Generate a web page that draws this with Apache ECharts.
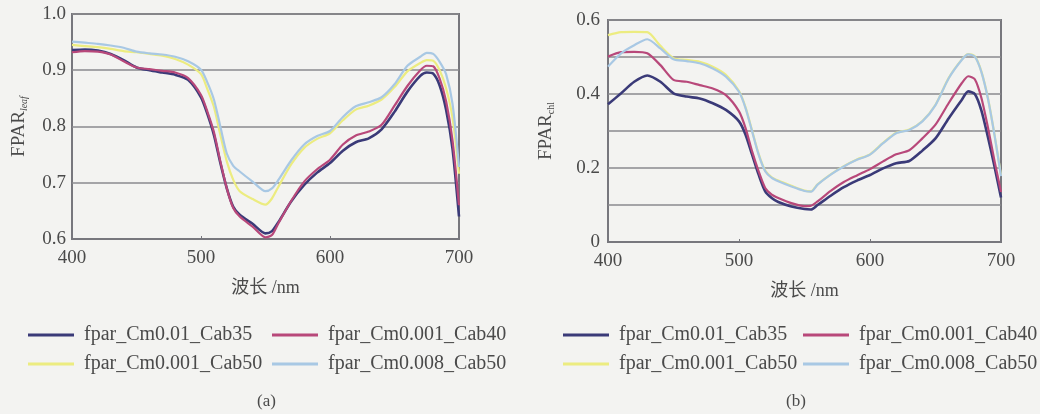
<!DOCTYPE html>
<html>
<head>
<meta charset="utf-8">
<script src="https://cdn.jsdelivr.net/npm/echarts@6/dist/echarts.min.js"></script>
<style>
  html, body { margin: 0; padding: 0; background: #f3f3f1; }
  #main { width: 1040px; height: 414px; }
</style>
</head>
<body>
<div id="main"></div>
<script>
  // wavelengths (nm), shared by every curve
  var waveLength = [400,410,420,430,440,450,460,470,480,490,500,505,510,515,520,525,530,540,550,555,560,570,580,590,600,610,620,630,640,650,660,670,675,680,685,690,695,700];

  var seriesNames = ['fpar_Cm0.01_Cab35', 'fpar_Cm0.001_Cab40', 'fpar_Cm0.001_Cab50', 'fpar_Cm0.008_Cab50'];
  var seriesColors = ['#3a3a78', '#b8487a', '#ecec80', '#a8c8e4'];

  // (a) FPAR leaf
  var leafCm001Cab35 = [.936,.937,.935,.929,.918,.905,.900,.896,.892,.883,.852,.822,.785,.735,.690,.657,.643,.627,.610,.614,.630,.667,.696,.718,.735,.757,.772,.779,.795,.826,.862,.890,.896,.894,.873,.830,.760,.640];
  var leafCm0001Cab40 = [.932,.934,.933,.928,.916,.905,.902,.899,.896,.886,.856,.826,.790,.738,.690,.655,.640,.622,.603,.607,.628,.668,.702,.724,.741,.768,.784,.791,.803,.837,.872,.900,.908,.907,.885,.845,.775,.660];
  var leafCm0001Cab50 = [.945,.943,.941,.938,.934,.932,.929,.926,.920,.910,.893,.866,.835,.785,.738,.705,.685,.671,.661,.672,.693,.733,.762,.778,.788,.811,.830,.837,.848,.870,.898,.913,.918,.917,.900,.868,.815,.716];
  var leafCm0008Cab50 = [.951,.949,.947,.944,.940,.933,.930,.928,.924,.916,.901,.878,.848,.800,.752,.730,.720,.702,.685,.690,.705,.740,.768,.783,.792,.817,.836,.843,.852,.875,.908,.924,.931,.929,.915,.893,.840,.728];

  // (b) FPAR chl
  var chlCm001Cab35 = [.372,.402,.433,.450,.433,.402,.393,.388,.375,.357,.326,.290,.236,.182,.137,.119,.108,.096,.089,.088,.100,.125,.148,.166,.181,.199,.213,.219,.247,.280,.334,.384,.407,.400,.356,.284,.205,.120];
  var chlCm0001Cab40 = [.501,.513,.514,.510,.478,.438,.433,.424,.415,.397,.353,.308,.245,.191,.146,.128,.119,.105,.097,.098,.110,.138,.162,.180,.197,.218,.237,.248,.280,.317,.375,.429,.448,.440,.390,.310,.220,.135];
  var chlCm0001Cab50 = [.559,.567,.568,.567,.530,.497,.492,.487,.474,.452,.408,.364,.301,.238,.193,.175,.166,.152,.139,.137,.156,.183,.205,.223,.237,.268,.295,.304,.327,.371,.443,.493,.508,.502,.461,.389,.291,.180];
  var chlCm0008Cab50 = [.474,.510,.532,.548,.523,.494,.489,.483,.469,.447,.406,.362,.299,.236,.191,.173,.164,.150,.138,.136,.155,.182,.204,.222,.236,.267,.294,.303,.326,.370,.442,.492,.507,.501,.460,.388,.290,.178];

  var xTicks = [400, 500, 600, 700];

  var leafData = [leafCm001Cab35, leafCm0001Cab40, leafCm0001Cab50, leafCm0008Cab50];
  var chlData = [chlCm001Cab35, chlCm0001Cab40, chlCm0001Cab50, chlCm0008Cab50];

  var serif = "'Liberation Serif', 'Noto Sans CJK SC', serif";
  var textColor = '#4a4a4a';

  function pairs(values) {
    return waveLength.map(function (w, i) { return [w, values[i]]; });
  }

  var series = [];
  [leafData, chlData].forEach(function (group, g) {
    group.forEach(function (values, k) {
      series.push({
        name: seriesNames[k],
        type: 'line',
        xAxisIndex: g,
        yAxisIndex: g,
        symbol: 'none',
        smooth: 0.25,
        lineStyle: { color: seriesColors[k], width: k === 0 ? 2.6 : 2.2 },
        itemStyle: { color: seriesColors[k] },
        data: pairs(values)
      });
    });
  });

  var xAxisBase = function (gridIndex) {
    return {
      type: 'value',
      gridIndex: gridIndex,
      min: xTicks[0],
      max: xTicks[xTicks.length - 1],
      interval: 100,
      name: '波长 /nm',
      nameLocation: 'middle',
      nameGap: 40,
      nameTextStyle: { fontFamily: serif, fontSize: 18, color: textColor },
      axisLine: { lineStyle: { color: '#77777d', width: 2 } },
      axisTick: { inside: true, length: 3, lineStyle: { color: '#77777d' } },
      axisLabel: { fontFamily: serif, fontSize: 19, color: textColor, margin: 10 },
      splitLine: { show: false }
    };
  };

  var legendBase = function (left, names) {
    return {
      orient: 'vertical',
      left: left,
      top: 325,
      padding: 0,
      icon: 'rect',
      itemWidth: 46,
      itemHeight: 3,
      itemGap: 9,
      data: names,
      textStyle: { fontFamily: serif, fontSize: 20, color: textColor, padding: [0, 0, 0, 5] }
    };
  };

  var option = {
    backgroundColor: '#f3f3f1',
    animation: false,
    grid: [
      { left: 72, top: 14, width: 387, height: 225, show: true, borderColor: '#77777d', borderWidth: 2, backgroundColor: 'transparent' },
      { left: 608, top: 20, width: 393, height: 222, show: true, borderColor: '#77777d', borderWidth: 2, backgroundColor: 'transparent' }
    ],
    xAxis: [xAxisBase(0), xAxisBase(1)],
    yAxis: [
      {
        type: 'value',
        gridIndex: 0,
        min: 0.6,
        max: 1.0,
        interval: 0.1,
        name: '{a|FPAR}{b|leaf}',
        nameLocation: 'middle',
        nameGap: 43,
        nameRotate: 90,
        nameTextStyle: {
          rich: {
            a: { fontFamily: serif, fontSize: 19, color: textColor },
            b: { fontFamily: serif, fontSize: 10, fontStyle: 'italic', color: textColor, verticalAlign: 'bottom', padding: [8, 0, 0, 0] }
          }
        },
        axisLine: { show: false },
        axisTick: { show: false },
        axisLabel: {
          fontFamily: serif, fontSize: 19, color: textColor, margin: 6,
          formatter: function (v) { return v.toFixed(1); }
        },
        splitLine: { lineStyle: { color: '#8a8a8e', width: 1.5 } }
      },
      {
        type: 'value',
        gridIndex: 1,
        min: 0,
        max: 0.6,
        interval: 0.1,
        name: '{a|FPAR}{b|chl}',
        nameLocation: 'middle',
        nameGap: 52,
        nameRotate: 90,
        nameTextStyle: {
          rich: {
            a: { fontFamily: serif, fontSize: 19, color: textColor },
            b: { fontFamily: serif, fontSize: 10, color: textColor, verticalAlign: 'bottom', padding: [8, 0, 0, 0] }
          }
        },
        axisLine: { show: false },
        axisTick: { show: false },
        axisLabel: {
          fontFamily: serif, fontSize: 19, color: textColor, margin: 8,
          formatter: function (v) {
            var t = Math.round(v * 10);
            if (t % 2 !== 0) return '';
            return t === 0 ? '0' : v.toFixed(1);
          }
        },
        splitLine: { lineStyle: { color: '#8a8a8e', width: 1.5 } }
      }
    ],
    legend: [
      legendBase(28, [seriesNames[0], seriesNames[2]]),
      legendBase(272, [seriesNames[1], seriesNames[3]]),
      legendBase(563, [seriesNames[0], seriesNames[2]]),
      legendBase(803, [seriesNames[1], seriesNames[3]])
    ],
    title: [
      { text: '(a)', left: 252, top: 388, textStyle: { fontFamily: serif, fontSize: 17, fontWeight: 'normal', color: textColor } },
      { text: '(b)', left: 781, top: 388, textStyle: { fontFamily: serif, fontSize: 17, fontWeight: 'normal', color: textColor } }
    ],
    series: series
  };

  var chart = echarts.init(document.getElementById('main'));
  chart.setOption(option);
</script>
</body>
</html>
